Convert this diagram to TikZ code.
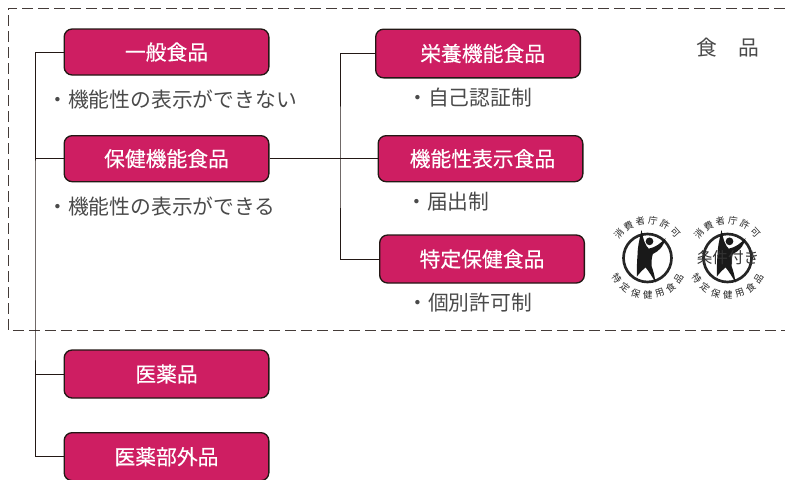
\documentclass[tikz,border=0pt]{standalone}
\usepackage{fontspec}
\setmainfont{Noto Sans CJK JP}
\newfontfamily\boxfont[FakeBold=0.3]{Noto Sans CJK JP}
\usetikzlibrary{positioning}
\definecolor{boxred}{HTML}{CE1E62}
\definecolor{edgeblack}{HTML}{231815}
\definecolor{labelgray}{HTML}{4A4A4A}
\tikzset{
	foodbox/.style={draw=edgeblack, fill=boxred, text=white, rounded corners=6pt,
		line width=1pt, minimum width=153.5pt, minimum height=34.5pt,
		inner sep=0pt, font=\boxfont\fontsize{15.6pt}{15.6pt}\selectfont},
	sublabel/.style={text=labelgray, inner sep=0pt, anchor=west,
		font=\fontsize{15.6pt}{15.6pt}\selectfont},
	link/.style={edgeblack, line width=0.75pt},
	ringchar/.style={inner sep=0pt, text=black!85, font=\fontsize{7pt}{7pt}\selectfont},
	emblem/.pic={
		\draw [line width=2pt, black!85] (0,0) circle (18pt);
		\fill [black!90] (-4.5pt,21pt) .. controls (-3pt,13pt) and (-1.5pt,9pt) .. (1pt,7pt)
			.. controls (6pt,8pt) and (10pt,11pt) .. (13.5pt,15pt)
			.. controls (12pt,8pt) and (8pt,5pt) .. (4pt,3pt)
			.. controls (3pt,0pt) and (3pt,-3pt) .. (3pt,-6pt)
			.. controls (4.5pt,-10pt) and (5.5pt,-14pt) .. (6pt,-18.5pt)
			.. controls (3.5pt,-14pt) and (1pt,-10pt) .. (-1.5pt,-7pt)
			.. controls (-3.5pt,-9pt) and (-6pt,-11pt) .. (-8pt,-14pt)
			.. controls (-8pt,-9pt) and (-8pt,-3pt) .. (-7.5pt,2pt)
			.. controls (-7.5pt,8pt) and (-6pt,14pt) .. (-4.5pt,21pt) -- cycle;
		\fill [black!90] (1.5pt,12.5pt) circle (2.9pt);
		\foreach \ch [count=\i from 0] in {消,費,者,庁,許,可}
			\node [ringchar, rotate={50-\i*19.5}] at ({140-\i*19.5}:28pt) {\ch};
		\foreach \ch [count=\i from 0] in {特,定,保,健,用,食,品}
			\node [ringchar, rotate={-56+\i*18.8}] at ({214+\i*18.8}:28pt) {\ch};
	}
}
\begin{document}
\begin{tikzpicture}[x=0.75pt, y=-0.75pt]
	\useasboundingbox (0,0) rectangle (785,479);

	\draw [edgeblack!85, line width=0.65pt, dash pattern=on 8pt off 4pt]
		(785,8) -- (8,8) -- (8,330) -- (785,330);

	\node [foodbox] (ippan) at (166.5,52) {一般食品};
	\node [foodbox, below=44.5pt of ippan] (hoken) {保健機能食品};
	\node [foodbox, minimum height=36pt] (iyaku) at (166.5,374) {\raisebox{-2pt}{医薬品}};
	\node [foodbox, minimum height=36pt, below=25pt of iyaku] (bugai) {医薬部外品};

	\node [foodbox, minimum height=36.5pt] (eiyo) at (478,53.5) {\hspace{7pt}\raisebox{-1pt}{栄養機能食品}};
	\node [foodbox, right=81pt of hoken] (kino) {\hspace{3pt}機能性表示食品};
	\node [foodbox, minimum height=36pt] (tokuho) at (482,259) {特定保健食品};

	\node [sublabel] (ippanlabel) at (47,100) {・機能性の表示ができない};
	\node [sublabel] (hokenlabel) at (47,207) {・機能性の表示ができる};
	\node [sublabel] (eiyolabel) at (407,98) {・自己認証制};
	\node [sublabel] (kinolabel) at (406,202) {・届出制};
	\node [sublabel] (tokuholabel) at (407,303) {・個別許可制};
	\node [text=labelgray, inner sep=0pt, font=\fontsize{15.6pt}{15.6pt}\selectfont] (shokuhin) at (728,48) {食\hspace{1em}品};

	\coordinate (bus) at (35,266);
	\coordinate (fork) at (340,158);
	\draw [link] (ippan.west) -| (bus) |- (bugai.west);
	\draw [link] (hoken.west) -- (hoken.west -| bus);
	\draw [link] (iyaku.west) -- (iyaku.west -| bus);
	\draw [link] (hoken.east) -- (kino.west);
	\draw [link] (eiyo.west) -| (fork) |- (tokuho.west);

	\pic (markone) at (647.5,258) {emblem};
	\pic (marktwo) at (727.5,258) {emblem};
	\node [text=black!80, inner sep=0pt, font=\fontsize{11.7pt}{11.7pt}\selectfont] (joken) at (728,258) {条件付き};
\end{tikzpicture}
\end{document}
